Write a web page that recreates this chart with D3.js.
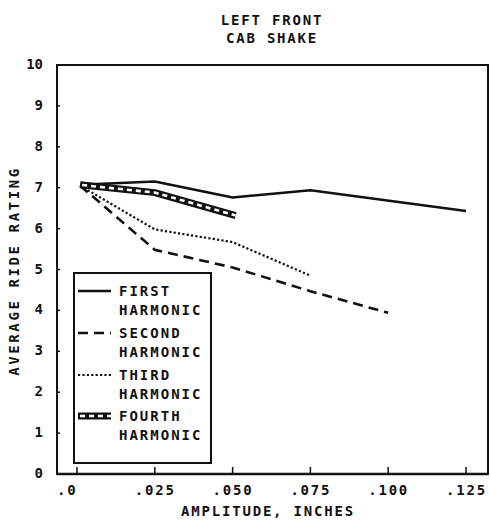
<!DOCTYPE html>
<html>
<head>
<meta charset="utf-8">
<script src="https://cdn.jsdelivr.net/npm/d3@7"></script>
<style>
  html, body { margin: 0; padding: 0; background: #fff; }
  svg text { font-family: "DejaVu Sans Mono", monospace; font-weight: bold; fill: #111; }
</style>
</head>
<body>
<svg id="chart" width="490" height="520"></svg>
<script>
// Amplitude (inches) and average ride ratings for each harmonic
const firstAmp  = [0.001, 0.025, 0.050, 0.075, 0.125];
const firstVal  = [7.07, 7.15, 6.76, 6.94, 6.43];
const secondAmp = [0.001, 0.025, 0.050, 0.075, 0.100];
const secondVal = [7.05, 5.48, 5.05, 4.47, 3.94];
const thirdAmp  = [0.001, 0.025, 0.050, 0.075];
const thirdVal  = [7.05, 5.98, 5.67, 4.85];
const fourthAmp = [0.001, 0.025, 0.051];
const fourthVal = [7.07, 6.88, 6.32];

const xTicks = [0, 0.025, 0.050, 0.075, 0.100, 0.125];
const xTickLabels = [".0", ".025", ".050", ".075", ".100", ".125"];
const yTicks = [0, 1, 2, 3, 4, 5, 6, 7, 8, 9, 10];
const yTickLabels = ["0", "1", "2", "3", "4", "5", "6", "7", "8", "9", "10"];
const seriesNames = ["FIRST", "SECOND", "THIRD", "FOURTH"];

const svg = d3.select("#chart");
const x = d3.scaleLinear().domain([0, 0.125]).range([77, 466]);
const y = d3.scaleLinear().domain([0, 10]).range([474, 65]);
const frame = { left: 57, right: 488, top: 65, bottom: 474 };

// Titles
const title = svg.append("g").attr("text-anchor", "middle").attr("font-size", 14);
title.append("text").attr("x", 272).attr("y", 25).attr("letter-spacing", 1.8).text("LEFT FRONT");
title.append("text").attr("x", 272).attr("y", 43).attr("letter-spacing", 1.8).text("CAB SHAKE");

// Plot frame
svg.append("path")
  .attr("d", `M${frame.left},${frame.bottom}V${frame.top}H${frame.right}V${frame.bottom}Z`)
  .attr("fill", "none").attr("stroke", "#111").attr("stroke-width", 2);
svg.append("line").attr("x1", frame.left).attr("x2", frame.right)
  .attr("y1", frame.bottom).attr("y2", frame.bottom)
  .attr("stroke", "#111").attr("stroke-width", 2.6);

// Y axis ticks and labels
const yAxis = svg.append("g").attr("font-size", 14);
yAxis.selectAll("line").data(yTicks.filter(d => d > 0 && d < 10)).join("line")
  .attr("x1", frame.left).attr("x2", frame.left + 3)
  .attr("y1", d => y(d)).attr("y2", d => y(d))
  .attr("stroke", "#111").attr("stroke-width", 1.5);
yAxis.selectAll("text").data(yTicks).join("text")
  .attr("x", 43).attr("y", d => y(d) + 4).attr("text-anchor", "end")
  .text((d, i) => yTickLabels[i]);

// X axis ticks and labels
const xAxis = svg.append("g").attr("font-size", 14);
xAxis.selectAll("line").data(xTicks).join("line")
  .attr("x1", d => x(d)).attr("x2", d => x(d))
  .attr("y1", frame.bottom).attr("y2", frame.bottom - 7)
  .attr("stroke", "#111").attr("stroke-width", 1.5);
xAxis.selectAll("text").data(xTicks).join("text")
  .attr("x", d => x(d) - 20).attr("y", 495).attr("letter-spacing", 1.8)
  .text((d, i) => xTickLabels[i]);

// Axis titles
svg.append("text").attr("x", 268).attr("y", 516).attr("text-anchor", "middle")
  .attr("font-size", 14).attr("letter-spacing", 1.8).text("AMPLITUDE, INCHES");
svg.append("text").attr("transform", "translate(19,271) rotate(-90)")
  .attr("text-anchor", "middle").attr("font-size", 14).attr("letter-spacing", 2.6)
  .text("AVERAGE RIDE RATING");

// Line styles for the four harmonics
const styles = [
  { dash: null, width: 2.5 },
  { dash: "10 6", width: 2.6 },
  { dash: "2.2 2.2", width: 2.2 },
  { chain: true }
];

const line = d3.line().x(d => x(d[0])).y(d => y(d[1]));
const series = [
  d3.zip(firstAmp, firstVal),
  d3.zip(secondAmp, secondVal),
  d3.zip(thirdAmp, thirdVal),
  d3.zip(fourthAmp, fourthVal)
];

// The fourth harmonic is a chain of small open boxes: a wide black stroke
// with short white dashes punched down its middle.
function drawStroke(sel, st, d) {
  if (st.chain) {
    sel.append("path").attr("d", d).attr("fill", "none")
      .attr("stroke", "#111").attr("stroke-width", 7).attr("stroke-linejoin", "round");
    sel.append("path").attr("d", d).attr("fill", "none")
      .attr("stroke", "#fff").attr("stroke-width", 2.6)
      .attr("stroke-dasharray", "5 4").attr("stroke-dashoffset", -2);
  } else {
    sel.append("path").attr("d", d).attr("fill", "none")
      .attr("stroke", "#111").attr("stroke-width", st.width)
      .attr("stroke-dasharray", st.dash).attr("stroke-linejoin", "round");
  }
}

const plot = svg.append("g");
series.forEach((s, i) => drawStroke(plot.append("g"), styles[i], line(s)));

// Legend
const legend = svg.append("g");
legend.append("rect").attr("x", 74).attr("y", 273).attr("width", 137).attr("height", 190)
  .attr("fill", "#fff").attr("stroke", "#111").attr("stroke-width", 2);
const rowY = [291, 333, 375, 416];
seriesNames.forEach((name, i) => {
  const ry = rowY[i];
  drawStroke(legend.append("g"), styles[i], `M78,${ry}H111`);
  legend.append("text").attr("x", 119).attr("y", ry + 5).attr("font-size", 14)
    .attr("letter-spacing", 2).text(name);
  legend.append("text").attr("x", 119).attr("y", ry + 24).attr("font-size", 14)
    .attr("letter-spacing", 2).text("HARMONIC");
});
</script>
</body>
</html>
